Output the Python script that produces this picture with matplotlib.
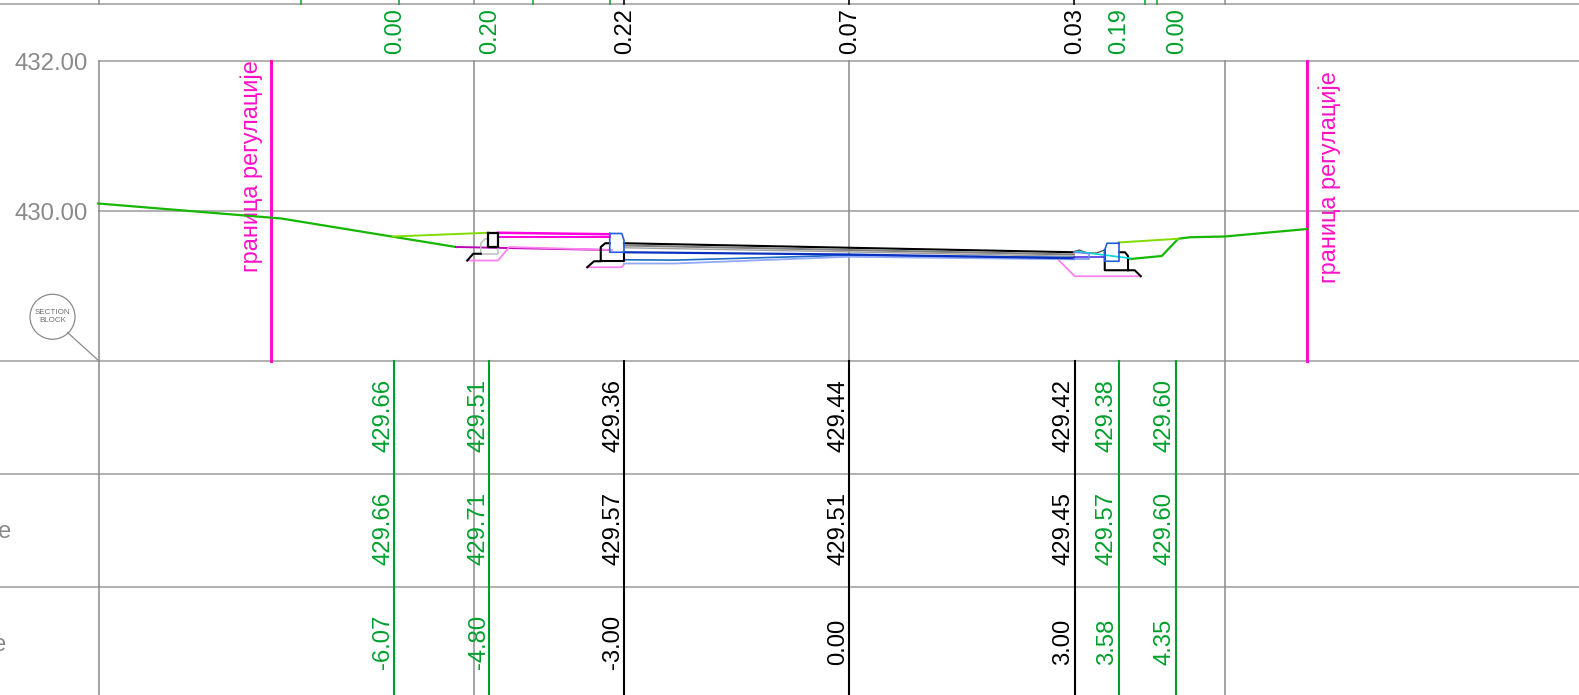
import matplotlib
matplotlib.use('Agg')
import matplotlib.pyplot as plt
from matplotlib.patches import Circle

plt.rcParams['font.family'] = ['Liberation Sans', 'DejaVu Sans']

# stations along the section (offset in m) and the table rows
offsets = [-6.07, -4.80, -3.00, 0.00, 3.00, 3.58, 4.35]
line_x = [-6.07, -4.80, -3.00, 0.00, 3.01, 3.60, 4.36]
is_axis_point = [False, False, True, True, True, False, False]
slope_labels = ['0.00', '0.20', '0.22', '0.07', '0.03', '0.19', '0.00']
existing_labels = ['429.66', '429.51', '429.36', '429.44', '429.42', '429.38', '429.60']
design_labels = ['429.66', '429.71', '429.57', '429.51', '429.45', '429.57', '429.60']
offset_labels = ['-6.07', '-4.80', '-3.00', '0.00', '3.00', '3.58', '4.35']

top_green_ticks = [-7.31, -6.00, -4.21, -3.19, 3.95, 4.11]
top_black_ticks = [-3.00, 0.00, 3.00]

elev_ticks = [432, 430]
elev_tick_labels = ['432.00', '430.00']
grid_x = [-10, -5, 5.02]
regulation_x = [-7.71, 6.11]

# existing ground
ground_l_x = [-10.01, -7.57, -5.24]
ground_l_y = [430.10, 429.90, 429.52]
ground_r_x = [3.75, 4.17, 4.39, 4.55, 5.01, 6.11]
ground_r_y = [429.36, 429.40, 429.63, 429.65, 429.66, 429.76]

# design surface, shoulders
shoulder_l_x = [-6.08, -4.81]
shoulder_l_y = [429.66, 429.71]
shoulder_r_x = [3.59, 4.39]
shoulder_r_y = [429.58, 429.63]

# sidewalk left
walk1_x = [-4.68, -3.19]
walk1_y = [429.71, 429.69]
walk2_x = [-4.68, -3.19]
walk2_y = [429.65, 429.65]
sub_x = [-5.24, -3.19]
sub_y = [429.52, 429.48]
pink_l_x = [-5.09, -4.68, -4.53, -3.16]
pink_l_y = [429.34, 429.34, 429.52, 429.48]
box_x = [-4.81, -4.68, -4.68, -4.81, -4.81]
box_y = [429.71, 429.71, 429.52, 429.52, 429.71]
edge_l_x = [-5.09, -5.01, -4.91]
edge_l_y = [429.34, 429.43, 429.43]
grey1_x = [-4.91, -4.91, -4.85, -4.81]
grey1_y = [429.43, 429.57, 429.63, 429.63]
grey2_x = [-4.91, -4.68, -4.68]
grey2_y = [429.43, 429.43, 429.52]

# curb left
curb_l_x = [-3.19, -3.03, -3.00, -3.00, -3.19, -3.19]
curb_l_y = [429.70, 429.70, 429.61, 429.45, 429.45, 429.70]
curb_blk_x = [-3.49, -3.40, -3.31, -3.31, -3.25, -3.19]
curb_blk_y = [429.25, 429.33, 429.33, 429.52, 429.57, 429.57]
curb_base_x = [-3.31, -3.00, -3.00]
curb_base_y = [429.33, 429.33, 429.45]
curb_pink_x = [-3.49, -3.03, -3.00]
curb_pink_y = [429.25, 429.25, 429.29]

# road
road_x = [-3.00, 0.00, 3.00]
road_top = [429.57, 429.51, 429.45]
road_grey1 = [429.54, 429.48, 429.42]
road_grey2 = [429.51, 429.455, 429.395]
road_blue = [429.45, 429.42, 429.37]
lower_x = [-3.00, -2.32, 0.00, 3.00]
lower_blue1 = [429.35, 429.345, 429.41, 429.38]
lower_blue2 = [429.30, 429.30, 429.39, 429.355]

# curb right
curb_r_x = [3.60, 3.44, 3.41, 3.41, 3.60, 3.60]
curb_r_y = [429.57, 429.57, 429.48, 429.33, 429.33, 429.57]
curb_r_blk_x = [3.41, 3.41, 3.81, 3.89]
curb_r_blk_y = [429.48, 429.21, 429.21, 429.13]
curb_r_back_x = [3.60, 3.68, 3.72, 3.72]
curb_r_back_y = [429.45, 429.45, 429.40, 429.21]
pink_r_x = [2.80, 3.01, 3.89]
pink_r_y = [429.34, 429.13, 429.13]
wavy_x = [3.00, 3.07, 3.18, 3.30, 3.41]
wavy_y = [429.46, 429.48, 429.44, 429.44, 429.48]
cyan_x = [3.03, 3.75]
cyan_y = [429.46, 429.37]
violet_x = [3.00, 3.41]
violet_y = [429.38, 429.38]
gutter_x = [3.00, 3.20, 3.20, 3.00]
gutter_y = [429.45, 429.43, 429.36, 429.36]

GREY = '#8a8a8a'
LGREY = '#a3a3a3'
GREEN = '#00a02c'
MAG = '#ff10c8'
PINK = '#ff80ee'

fig = plt.figure(figsize=(15.79, 6.95), dpi=100)
ax = fig.add_axes([0, 0, 1, 1])
ax.set_xlim(-849 / 75, 730 / 75)
ax.set_ylim(432 - 634 / 75, 432 + 61 / 75)
ax.axis('off')

# frame of the section
x0, x1 = ax.get_xlim()
y0, y1 = ax.get_ylim()
for e in [432.76, 428, 426.49, 424.985]:
    ax.plot([x0, x1], [e, e], color=LGREY, lw=1.2, zorder=1)
for e in elev_ticks:
    ax.plot([-10, x1], [e, e], color=LGREY, lw=1.2, zorder=1)
for g in grid_x:
    ax.plot([g, g], [y0, 432], color=GREY, lw=1.1, zorder=1)
    ax.plot([g, g], [432.76, y1], color=GREY, lw=1.1, zorder=1)
ax.plot([0, 0], [428, 432], color=GREY, lw=1.1, zorder=1)

for e, lab in zip(elev_ticks, elev_tick_labels):
    ax.text(-10.15, e - 0.035, lab, color=GREY, fontsize=17.3, ha='right', va='center')

ax.text(-11.17, 425.72, 'e', color=GREY, fontsize=17.3, ha='right', va='center')
ax.text(-11.24, 424.21, 'e', color=GREY, fontsize=17.3, ha='right', va='center')

# section block bubble
ax.add_patch(Circle((-10.62, 428.59), 0.30, fill=False, ec=GREY, lw=0.9))
ax.plot([-10.42, -10.0], [428.38, 428.0], color=GREY, lw=0.9)
ax.text(-10.62, 428.59, 'SECTION\nBLOCK', color='#707070', fontsize=5.8, ha='center', va='center',
        linespacing=1.1)

# regulation limits
for r in regulation_x:
    ax.plot([r, r], [428, 432], color=MAG, lw=2.2, zorder=2)
ax.text(-7.97, 430.6, 'граница регулације', color=MAG, fontsize=16.9, rotation=90, ha='center', va='center')
ax.text(6.41, 430.45, 'граница регулације', color=MAG, fontsize=16.9, rotation=90, ha='center', va='center')

# section geometry
ax.plot(ground_l_x, ground_l_y, color='#14b800', lw=1.6, zorder=3)
ax.plot(ground_r_x, ground_r_y, color='#14b800', lw=1.6, zorder=3)
ax.plot(shoulder_l_x, shoulder_l_y, color='#80dc00', lw=1.4, zorder=3)
ax.plot(shoulder_r_x, shoulder_r_y, color='#80dc00', lw=1.4, zorder=3)

ax.plot(walk1_x, walk1_y, color='#ff00e0', lw=1.8, zorder=3)
ax.plot(walk2_x, walk2_y, color='#ff00e0', lw=1.4, zorder=3)
ax.plot(sub_x, sub_y, color='#c000b8', lw=1.4, zorder=3)
ax.plot(pink_l_x, pink_l_y, color=PINK, lw=1.3, zorder=3)
ax.plot(grey1_x, grey1_y, color='#bdbdbd', lw=1.1, zorder=3)
ax.plot(grey2_x, grey2_y, color='#bdbdbd', lw=1.1, zorder=3)
ax.plot(box_x, box_y, color='black', lw=1.6, zorder=4)
ax.plot(edge_l_x, edge_l_y, color='black', lw=1.5, zorder=4)

ax.plot(curb_pink_x, curb_pink_y, color=PINK, lw=1.3, zorder=3)
ax.plot(curb_blk_x, curb_blk_y, color='black', lw=1.5, zorder=4)
ax.plot(curb_base_x, curb_base_y, color='black', lw=1.5, zorder=4)
ax.plot(curb_l_x, curb_l_y, color='#2060e0', lw=1.2, zorder=5)

ax.plot(road_x, road_top, color='black', lw=1.5, zorder=3)
ax.plot(road_x, road_grey1, color='#808080', lw=1.5, zorder=3)
ax.plot(road_x, road_grey2, color='#a0a0a0', lw=1.0, zorder=3)
ax.plot(lower_x, lower_blue1, color='#1a6cc8', lw=1.2, zorder=3)
ax.plot(lower_x, lower_blue2, color='#90a8f8', lw=1.3, zorder=3)
ax.plot(road_x, road_blue, color='#0a30c0', lw=1.6, zorder=4)

ax.plot(pink_r_x, pink_r_y, color=PINK, lw=1.3, zorder=3)
ax.plot(curb_r_blk_x, curb_r_blk_y, color='black', lw=1.5, zorder=4)
ax.plot(curb_r_back_x, curb_r_back_y, color='black', lw=1.5, zorder=4)
ax.plot(wavy_x, wavy_y, color='#606060', lw=1.0, zorder=4)
ax.plot(cyan_x, cyan_y, color='#00d8d8', lw=1.2, zorder=4)
ax.plot(violet_x, violet_y, color='#4020e0', lw=1.1, zorder=4)
ax.plot(gutter_x, gutter_y, color='#7090f0', lw=1.1, zorder=4)
ax.plot(curb_r_x, curb_r_y, color='#2060e0', lw=1.2, zorder=5)

# ticks at the very top
for t in top_green_ticks:
    ax.plot([t, t], [432.76, y1], color=GREEN, lw=1.1, zorder=2)
for t in top_black_ticks:
    ax.plot([t, t], [432.76, y1], color='black', lw=1.2, zorder=2)

# table
for i in range(len(offsets)):
    off = offsets[i]
    c = 'black' if is_axis_point[i] else GREEN
    ax.plot([line_x[i], line_x[i]], [y0, 428], color=c, lw=1.5, zorder=3)
    ax.text(off + 0.02, 432.40, slope_labels[i], color=c, fontsize=17, rotation=90, ha='center', va='center')
    ax.text(off - 0.14, 427.27, existing_labels[i], color=c, fontsize=17.2, rotation=90, ha='center', va='center')
    ax.text(off - 0.14, 425.77, design_labels[i], color=c, fontsize=17.2, rotation=90, ha='center', va='center')
    ax.text(off - 0.14, 424.25, offset_labels[i], color=c, fontsize=17.2, rotation=90, ha='center', va='center')

fig.savefig('out.png', dpi=100)
